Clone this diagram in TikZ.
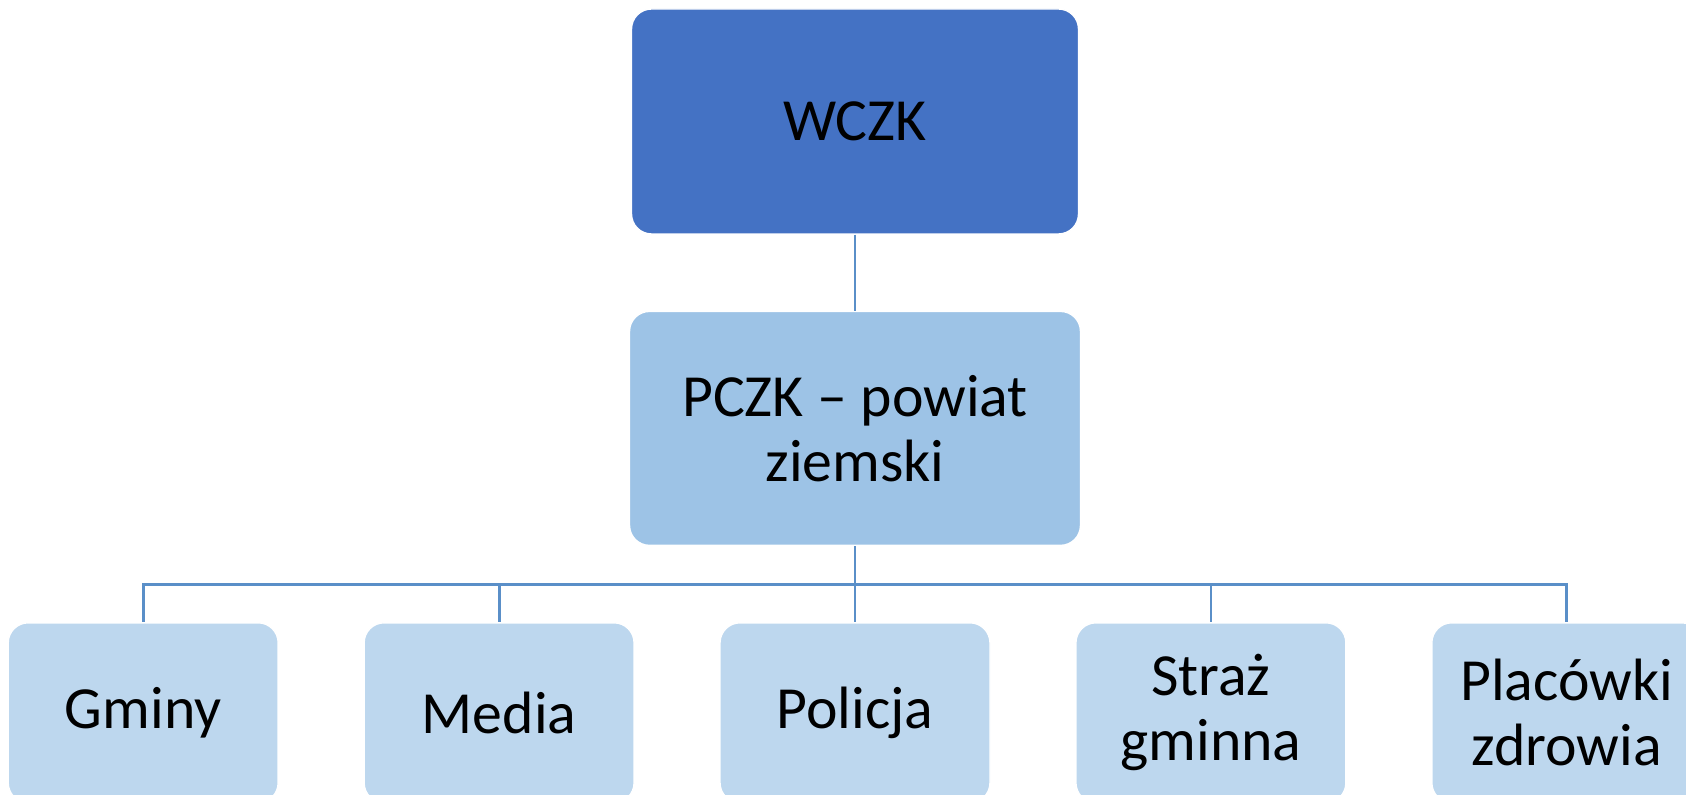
\documentclass[tikz,border=0pt]{standalone}
\usepackage{fontspec}
\setmainfont{Carlito}
\usepackage{tikz}
\usetikzlibrary{positioning,calc}

\definecolor{topblue}{HTML}{4472C4}
\definecolor{midblue}{HTML}{9DC3E6}
\definecolor{lowblue}{HTML}{BDD7EE}
\definecolor{lineblue}{HTML}{5A8FC8}

\begin{document}
\begin{tikzpicture}[node distance=7.6mm, auto]
	\tikzset{
    	mynode/.style={rectangle,rounded corners=2mm,draw=white, thin, inner sep=2mm, align=center, font=\fontsize{17pt}{18.5pt}\selectfont},
    	mynodemini/.style={mynode, fill=lowblue, minimum width=2.70cm, minimum height=1.80cm},
	    myline/.style={-, draw=lineblue, line width=0.8pt}
	}
	\clip (0,0) rectangle (16.86,-7.95);
	\node[mynode, fill=topblue, minimum width=4.47cm, minimum height=2.25cm] (wczk) at (8.55,-1.215) {WCZK};
	\node[mynode, fill=midblue, minimum width=4.51cm, minimum height=2.34cm, below=of wczk] (pczk) {PCZK – powiat \\ ziemski};

	\node[mynodemini, below=of pczk] (policja) {Policja};
	\node[mynodemini, left=8.45mm of policja] (media) {Media};
	\node[mynodemini, left=8.45mm of media] (gminy) {Gminy};
	\node[mynodemini, right=8.45mm of policja] (straz) {Straż \\ gminna};
	\node[mynodemini, right=8.45mm of straz] (placowki) {Placówki \\ zdrowia};

	\draw[myline] (wczk.south) -- (pczk.north);
	\foreach \child in {gminy,media,policja,straz,placowki}
		\draw[myline] (pczk.south) -- ++(0,-0.38) -| (\child.north);
\end{tikzpicture}
\end{document}
